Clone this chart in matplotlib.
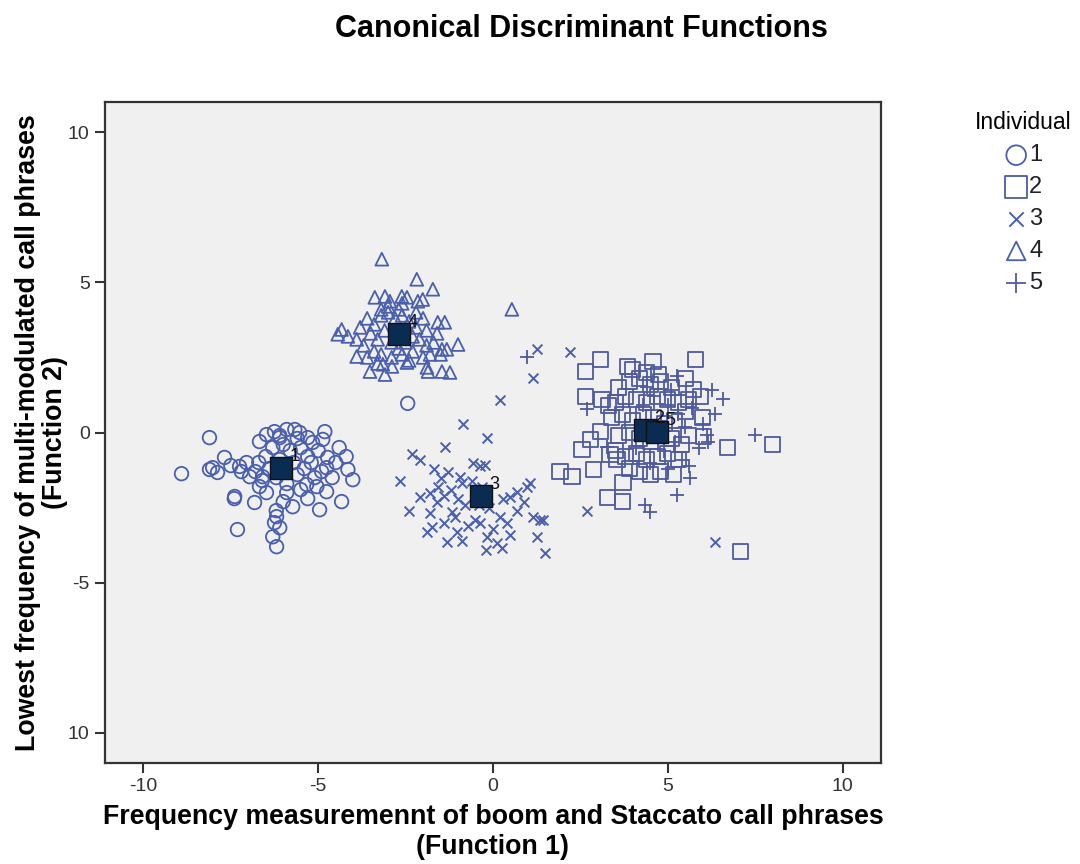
import matplotlib.pyplot as plt
import numpy as np

# discriminant scores (Function 1, Function 2) per individual
ind1_x = [-8.91, -8.11, -8.02, -7.88, -8.11, -7.68, -7.25, -7.39, -7.31, -6.82, -6.68, -6.48,
          -6.25, -6.10, -5.67, -5.53, -5.30, -5.16, -4.81, -4.87, -4.73, -4.76, -4.15, -4.01,
          -4.33, -4.96, -5.73, -6.25, -6.19, -6.10, -6.30, -6.19, -4.76, -5.04, -5.33, -6.68,
          -6.48, -6.59, -6.96, -7.05, -2.44,
          -6.3, -6.0, -5.8, -5.5, -5.3, -6.5, -6.7, -6.4, -6.2, -5.9, -5.6, -5.4, -5.2, -5.1,
          -5.7, -6.1, -6.8, -6.6, -5.9, -5.5, -5.3, -6.0, -6.2, -6.1, -5.9, -5.6, -5.0, -4.9,
          -4.5, -4.6, -7.2, -7.5, -7.4, -4.4, -4.2]
ind1_y = [-1.37, -0.17, -1.17, -1.33, -1.23, -0.83, -1.13, -2.13, -3.23, -2.33, -0.30, -0.07,
          0.03, -0.17, 0.10, 0.00, -0.17, -0.33, 0.03, -0.23, -0.83, -1.17, -1.23, -1.57,
          -2.30, -2.57, -2.47, -3.00, -2.80, -3.17, -3.47, -3.80, -1.97, -1.80, -1.73, -1.80,
          -2.00, -1.47, -1.47, -1.00, 0.97,
          -0.5, -0.4, -0.6, -0.5, -0.8, -0.8, -1.0, -1.2, -1.5, -1.7, -1.4, -1.2, -1.0, -1.5,
          -1.0, -0.9, -1.3, -1.6, -2.0, -1.9, -2.2, -2.3, -2.6, -0.1, 0.1, -0.2, -0.6, -1.3,
          -1.0, -1.5, -1.3, -1.1, -2.2, -0.5, -0.8]

ind2_x = [3.07, 2.64, 3.84, 4.58, 5.79, 4.73, 2.64, 3.12, 5.73, 5.59, 5.93, 3.07, 2.78, 2.55,
          1.92, 2.26, 2.87, 3.72, 3.27, 3.70, 6.70, 7.99, 7.08, 5.99, 6.02, 5.16, 3.35, 3.55,
          3.6, 3.9, 4.2, 4.5, 4.8, 5.1, 3.5, 3.8, 4.1, 4.4, 4.7, 5.0, 5.3, 3.4, 3.7, 4.0, 4.3,
          4.6, 4.9, 5.2, 5.5, 3.6, 3.9, 4.2, 4.5, 4.8, 5.1, 5.4, 3.5, 3.8, 4.1, 4.4, 4.7, 5.0,
          5.3, 3.9, 4.2, 4.5, 4.8, 3.3, 5.6, 4.0, 4.4, 5.5]
ind2_y = [2.43, 2.03, 2.20, 2.37, 2.43, 1.93, 1.20, 1.10, 1.43, 1.10, 1.20, 0.03, -0.23, -0.57,
          -1.30, -1.47, -1.23, -1.67, -2.17, -2.30, -0.50, -0.40, -3.97, 0.50, -0.13, -1.40,
          -0.73, -0.90,
          1.5, 1.7, 1.8, 1.6, 1.7, 1.5, 1.0, 1.2, 1.1, 1.0, 1.2, 1.1, 1.0, 0.5, 0.6, 0.4, 0.6,
          0.5, 0.3, 0.4, 0.7, -0.1, 0.0, -0.2, -0.3, -0.1, -0.2, -0.4, -0.6, -0.8, -0.7, -0.9,
          -0.8, -0.7, -0.9, -1.2, -1.3, -1.4, -1.3, 0.9, -0.1, 2.1, 2.0, 1.8]

ind3_x = [1.26, 2.21, 1.15, 0.20, -0.86, -0.17, -2.66, -2.32, -2.09, -1.38, -2.09, -1.58,
          -0.95, -0.89, -0.37, -0.23, -0.57, 1.06, 0.97, 0.69, 0.49, 1.15, 1.43, 1.26, 1.49,
          -1.81, -1.75, -1.17, -1.03, -1.32, -0.37, -0.17, 0.11, 0.26, 0.40, 2.69, 6.36, 1.35,
          -1.8, -1.6, -1.4, -1.2, -1.0, -0.8, -1.5, -1.3, -0.6, -0.3, -0.1, 0.2, 0.0, -0.5,
          -0.7, -1.1, -1.4, -0.9, 0.5, 0.7, 0.9, -2.4, -1.9, -0.4, -1.7, -0.2, 0.3]
ind3_y = [2.77, 2.67, 1.80, 1.07, 0.30, -0.17, -1.63, -0.73, -0.90, -0.47, -2.13, -1.80,
          -1.47, -1.67, -1.13, -1.07, -1.00, -1.67, -1.83, -1.97, -2.13, -2.80, -2.90, -3.47,
          -4.00, -2.67, -3.13, -2.63, -3.30, -3.63, -3.00, -3.47, -3.67, -3.83, -3.00, -2.60,
          -3.63, -2.90,
          -2.0, -2.3, -2.1, -1.9, -2.2, -2.4, -1.5, -1.3, -1.6, -1.8, -2.5, -2.8, -3.2, -2.9,
          -3.1, -2.8, -3.0, -3.6, -3.4, -2.6, -2.3, -2.6, -3.3, -2.4, -1.2, -3.9, -2.2]

ind4_x = [-3.18, -2.18, -1.72, -3.38, -3.09, -2.95, -2.61, -2.46, -2.15, -2.01, -1.58, -1.38,
          -4.33, -4.15, -4.44, -3.90, -1.00, -1.46, -1.32, -3.52, -3.09, -2.89, -3.15, -2.46,
          -1.89, -1.86, -1.46, -1.23, 0.54,
          -3.6, -3.4, -3.2, -3.0, -2.8, -2.6, -2.4, -2.2, -3.5, -3.3, -3.1, -2.9, -2.5, -2.3,
          -2.1, -1.9, -1.7, -3.7, -3.4, -3.2, -2.9, -2.6, -2.3, -2.0, -1.8, -3.0, -2.7, -3.8,
          -2.0, -1.6, -3.9, -2.7, -3.3, -2.4, -1.9, -3.6, -2.6, -3.2, -2.2, -1.5]
ind4_y = [5.77, 5.10, 4.77, 4.50, 4.53, 4.37, 4.53, 4.50, 4.37, 4.43, 3.67, 3.67, 3.43, 3.20,
          3.27, 2.53, 2.93, 2.77, 2.77, 2.03, 1.93, 2.20, 2.27, 2.33, 2.17, 2.03, 2.03, 2.00,
          4.10,
          3.8, 3.6, 3.9, 4.0, 3.8, 3.9, 3.7, 3.5, 3.3, 3.1, 3.4, 3.0, 3.0, 3.2, 3.1, 2.9, 3.0,
          2.9, 2.7, 2.6, 2.5, 2.6, 2.7, 2.5, 2.6, 4.2, 4.1, 3.5, 3.8, 3.3, 3.1, 2.8, 2.3, 2.4,
          3.4, 2.5, 4.3, 4.1, 4.0, 2.6]

ind5_x = [5.27, 6.28, 6.59, 6.36, 2.69, 7.51, 6.13, 6.16, 5.64, 5.27, 4.36, 4.50, 3.27, 0.97,
          4.6, 5.0, 5.3, 5.5, 5.2, 4.9, 5.4, 5.0, 4.5, 4.8, 5.7, 5.9, 4.3, 4.1, 5.6, 6.0, 4.4,
          5.1]
ind5_y = [1.87, 1.43, 1.10, 0.60, 0.77, -0.07, -0.07, -0.30, -1.53, -2.07, -2.40, -2.63,
          -0.47, 2.53,
          1.2, 0.9, 0.6, 0.2, -0.3, -0.6, -0.9, -1.2, -1.0, 0.4, 0.8, -0.5, 0.9, -0.5, -1.1,
          0.3, 1.5, 1.4]

# group centroids
cent_lab = ['1', '2', '3', '4', '5']
cent_x = [-6.05, 4.36, -0.34, -2.69, 4.70]
cent_y = [-1.17, 0.10, -2.10, 3.27, 0.03]

pt_col = '#4a5fae'

fig = plt.figure(figsize=(10.8, 8.64), dpi=100)
plt.rcParams['font.family'] = ['Liberation Sans', 'DejaVu Sans']
ax = fig.add_axes([0.0972, 0.1169, 0.7185, 0.765])
ax.set_facecolor('#f0f0f0')

h1 = ax.scatter(ind1_x, ind1_y, s=95, marker='o', facecolors='none', edgecolors=pt_col, linewidths=1.3)
h2 = ax.scatter(ind2_x, ind2_y, s=120, marker='s', facecolors='none', edgecolors='#4f5a9e', linewidths=1.3)
h3 = ax.scatter(ind3_x, ind3_y, s=50, marker='x', color=pt_col, linewidths=1.4)
h4 = ax.scatter(ind4_x, ind4_y, s=85, marker='^', facecolors='none', edgecolors=pt_col, linewidths=1.3)
h5 = ax.scatter(ind5_x, ind5_y, s=100, marker='+', color='#4f5a9e', linewidths=1.3)

# centroids drawn on top
ax.scatter(cent_x, cent_y, s=240, marker='s', color='#0b2c52', edgecolors='#111111', linewidths=1.0, zorder=5)
for lab, cx, cy in zip(cent_lab, cent_x, cent_y):
    ax.annotate(lab, (cx, cy), xytext=(6, 5), textcoords='offset points', fontsize=13, color='#111111', zorder=6)

ax.set_xlim(-11.1, 11.1)
ax.set_ylim(-11.0, 11.0)
ax.set_xticks([-10, -5, 0, 5, 10])
ax.set_xticklabels(['-10', '-5', '0', '5', '10'])
ax.set_yticks([-10, -5, 0, 5, 10])
ax.set_yticklabels(['10', '-5', '0', '5', '10'])
ax.tick_params(direction='out', length=7, width=1.5, color='#333333', labelsize=14, labelcolor='#333333', pad=4)
for sp in ax.spines.values():
    sp.set_linewidth(1.6)
    sp.set_color('#333333')

ax.set_xlabel('Frequency measuremennt of boom and Staccato call phrases\n(Function 1)',
              fontsize=19.3, fontweight='bold', labelpad=6, linespacing=1.2)
ax.set_ylabel('Lowest frequency of multi-modulated call phrases\n(Function 2)',
              fontsize=19.3, fontweight='bold', labelpad=0, linespacing=1.05)

fig.text(0.538, 0.966, 'Canonical Discriminant Functions', ha='center', va='center',
         fontsize=22, fontweight='bold')

leg = fig.legend([h1, h2, h3, h4, h5], ['1', '2', '3', '4', '5'], title='Individual',
                 loc='upper left', bbox_to_anchor=(0.9028, 0.871), frameon=False,
                 fontsize=17, title_fontsize=16.5, handletextpad=0.05, labelspacing=0.42,
                 handlelength=1.0, borderaxespad=0, borderpad=0, markerscale=1.45)
for t in leg.get_texts():
    t.set_color('#222222')

fig.savefig('out.png', dpi=100)
